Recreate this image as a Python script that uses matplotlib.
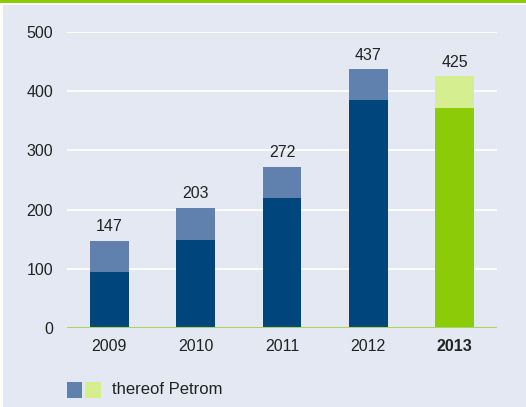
import numpy as np
import matplotlib
matplotlib.use("Agg")
import matplotlib.pyplot as plt
from matplotlib.patches import Rectangle

plt.rcParams['font.family'] = ['Liberation Sans', 'DejaVu Sans']

years = ["2009", "2010", "2011", "2012", "2013"]
totals = [147, 203, 272, 437, 425]
base = [95, 148, 220, 385, 372]
petrom = [t - b for t, b in zip(totals, base)]

dark_blue = "#00457c"
light_blue = "#6080ad"
green = "#8ccb08"
light_green = "#d4ee90"
bg = "#e4e8f2"

fig = plt.figure(figsize=(5.26, 4.07), dpi=100)
fig.patch.set_facecolor("white")
# background panel and green top band
fig.patches.append(Rectangle((3 / 526, 0), 523 / 526, 1 - 5 / 407, transform=fig.transFigure,
                             facecolor=bg, edgecolor="none", zorder=-5))
fig.patches.append(Rectangle((0, 1 - 2.5 / 407), 1, 2.5 / 407, transform=fig.transFigure,
                             facecolor=green, edgecolor="none", zorder=-5))

ax = fig.add_axes([67 / 526, (407 - 328) / 407, 430 / 526, 296 / 407])
ax.set_zorder(2)
ax.set_facecolor("none")
x = np.arange(len(years))
cols_base = [dark_blue] * 4 + [green]
cols_top = [light_blue] * 4 + [light_green]
ax.bar(x, base, width=0.45, color=cols_base, zorder=3)
ax.bar(x, petrom, bottom=base, width=0.45, color=cols_top, zorder=3)

for xi, t in zip(x, totals):
    ax.text(xi, t + 11, str(t), ha="center", va="bottom", fontsize=11.5, color="#222222")

ax.set_xlim(-0.49, 4.49)
ax.set_ylim(0, 500)
ax.set_yticks([0, 100, 200, 300, 400, 500])
ax.yaxis.grid(True, color="white", linewidth=1.3, zorder=1)
ax.set_axisbelow(True)
for s in ["top", "right", "left", "bottom"]:
    ax.spines[s].set_visible(False)
ax.axhline(0, color="#a8d55a", linewidth=1.5, zorder=4)
ax.tick_params(length=0, labelsize=11.5, colors="#222222")
ax.tick_params(axis="y", pad=10)
ax.tick_params(axis="x", pad=8)
ax.set_xticks(x)
ax.set_xticklabels(years)
ax.get_xticklabels()[-1].set_fontweight("bold")

# legend
fig.patches.append(Rectangle((67 / 526, (407 - 398) / 407), 15 / 526, 16 / 407,
                             transform=fig.transFigure, facecolor=light_blue, edgecolor="none"))
fig.patches.append(Rectangle((85 / 526, (407 - 398) / 407), 16 / 526, 16 / 407,
                             transform=fig.transFigure, facecolor=light_green, edgecolor="none"))
fig.text(112 / 526, (407 - 390) / 407, "thereof Petrom", ha="left", va="center",
         fontsize=12, color="#222222")

fig.savefig("out.png", dpi=100, facecolor=fig.get_facecolor())
